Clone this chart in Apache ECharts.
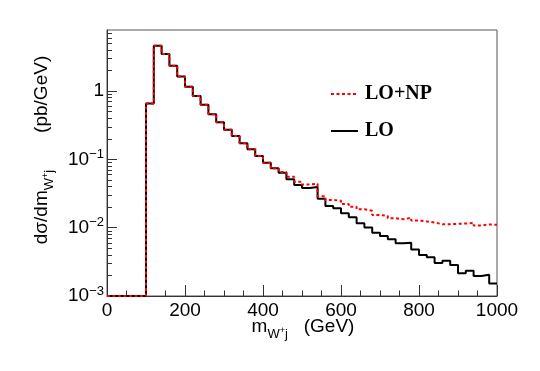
<!DOCTYPE html>
<html>
<head>
<meta charset="utf-8">
<script src="https://cdn.jsdelivr.net/npm/echarts@6/dist/echarts.min.js"></script>
<style>
  html, body { margin: 0; padding: 0; background: #fff; }
  #chart { width: 540px; height: 371px; }
</style>
</head>
<body>
<div id="chart"></div>
<script>
// Bin low edges (GeV), bin width 20 GeV
const binLowEdges = [0, 20, 40, 60, 80, 100, 120, 140, 160, 180, 200, 220, 240, 260, 280, 300, 320, 340, 360, 380,
  400, 420, 440, 460, 480, 500, 520, 540, 560, 580, 600, 620, 640, 660, 680, 700, 720, 740, 760, 780,
  800, 820, 840, 860, 880, 900, 920, 940, 960, 980];
const binUpperEdge = 1000;

// LO (black solid)
const loValues = [0, 0, 0, 0, 0, 0.66, 4.62, 3.49, 2.35, 1.64, 1.16, 0.85, 0.63, 0.457, 0.349, 0.272, 0.221, 0.172, 0.141, 0.112,
  0.0896, 0.0741, 0.064, 0.0512, 0.0422, 0.038, 0.0394, 0.0265, 0.0208, 0.0192, 0.0163, 0.0142, 0.0116, 0.0101, 0.00845, 0.00756, 0.00676, 0.0059, 0.00603, 0.0048,
  0.00398, 0.00368, 0.00305, 0.00329, 0.00284, 0.00215, 0.00235, 0.00196, 0.00205, 0.00153];

// LO+NP (red dotted)
const npValues = [0, 0, 0, 0, 0, 0.66, 4.62, 3.49, 2.35, 1.64, 1.16, 0.85, 0.63, 0.457, 0.349, 0.272, 0.221, 0.172, 0.141, 0.112,
  0.0896, 0.0741, 0.0655, 0.0558, 0.0472, 0.043, 0.044, 0.029, 0.0255, 0.0248, 0.0222, 0.0203, 0.0186, 0.0177, 0.01535, 0.01484, 0.01373, 0.01327, 0.0140, 0.01275,
  0.01233, 0.0119, 0.01125, 0.01125, 0.0114, 0.0115, 0.0118, 0.01077, 0.01114, 0.01102];

const seriesNames = ['LO+NP', 'LO'];

// Axis ranges and ticks
const xMin = 0, xMax = 1000, xInterval = 200;
const yMin = 0.001, yMax = 7.85;
const yMajorTicks = [0.001, 0.01, 0.1, 1];
const yMinorMultipliers = [2, 3, 4, 5, 6, 7, 8, 9];

const yMinorTicks = [];
yMajorTicks.forEach(function (d) {
  yMinorMultipliers.forEach(function (m) {
    const v = +(m * d).toPrecision(3);
    if (v <= yMax) yMinorTicks.push(v);
  });
});

function histData(values) {
  const pts = binLowEdges.map(function (e, i) {
    return [e, values[i] > 0 ? values[i] : yMin];
  });
  pts.push([binUpperEdge, pts[pts.length - 1][1]]);
  return pts;
}

const SANS = 'Liberation Sans, Arial, Helvetica, sans-serif';
const SERIF = 'Liberation Serif, Times New Roman, serif';
const AXC = '#333';

const chart = echarts.init(document.getElementById('chart'), null, { renderer: 'canvas' });

const titleRich = {
  m: { fontSize: 19, fontFamily: SANS, color: '#000', lineHeight: 22 },
  sub: { fontSize: 13, fontFamily: SANS, color: '#000', lineHeight: 14, padding: [14, 0, 0, 0] },
  sup: { fontSize: 9, fontFamily: SANS, color: '#000', lineHeight: 10, padding: [7, 0, 0, 0] }
};

const option = {
  animation: false,
  backgroundColor: '#fff',
  grid: {
    left: 107, top: 30, width: 390, height: 266,
    show: true, borderColor: '#555', borderWidth: 1,
    containLabel: false, outerBoundsMode: 'none'
  },
  legend: {
    data: seriesNames,
    orient: 'vertical',
    left: 330, top: 84, padding: 0,
    itemWidth: 27, itemHeight: 14, itemGap: 17,
    itemStyle: { opacity: 0 },
    textStyle: { fontFamily: SERIF, fontWeight: 'bold', fontSize: 20, color: '#000', padding: [0, 0, 0, 2] }
  },
  xAxis: {
    type: 'value', min: xMin, max: xMax, interval: xInterval,
    axisLine: { show: true, lineStyle: { color: AXC, width: 1 } },
    axisTick: { show: true, inside: true, length: 11, lineStyle: { color: AXC } },
    minorTick: { show: true, splitNumber: 4, length: 5.5, lineStyle: { color: AXC } },
    axisLabel: {
      fontFamily: SANS, fontSize: 19, color: '#000', margin: 5,
      formatter: function (v) { return String(v); }
    },
    splitLine: { show: false }
  },
  yAxis: [{
    type: 'log', min: yMin, max: yMax,
    axisLine: { show: true, lineStyle: { color: AXC, width: 1 } },
    axisTick: { show: true, inside: true, length: 10, customValues: yMajorTicks, lineStyle: { color: AXC } },
    axisLabel: {
      customValues: yMajorTicks,
      margin: 3,
      formatter: function (v) {
        const e = Math.round(Math.log10(v));
        if (e === 0) return '{b|1}';
        return '{b|10}{s|\u2212' + Math.abs(e) + '}';
      },
      rich: {
        b: { fontSize: 19, fontFamily: SANS, color: '#000', lineHeight: 20 },
        s: { fontSize: 13, fontFamily: SANS, color: '#000', lineHeight: 13, padding: [0, 0, 10, 0] }
      }
    },
    splitLine: { show: false }
  }, {
    type: 'log', min: yMin, max: yMax, position: 'left', offset: 0,
    axisLine: { show: false },
    axisTick: { show: true, inside: true, length: 5, customValues: yMinorTicks, lineStyle: { color: AXC } },
    axisLabel: { show: false },
    splitLine: { show: false }
  }],
  series: [{
    name: 'LO', type: 'line', step: 'end', data: histData(loValues),
    showSymbol: false, symbol: 'none', z: 2,
    lineStyle: { color: '#000', width: 2 }, itemStyle: { color: '#000' }
  }, {
    name: 'LO+NP', type: 'line', step: 'end', data: histData(npValues),
    showSymbol: false, symbol: 'none', z: 3,
    lineStyle: { color: '#ff0000', width: 2, type: [3, 2.5] }, itemStyle: { color: '#ff0000' }
  }],
  graphic: [{
    type: 'text', x: 303, y: 327,
    style: {
      text: '{m|m}{sub|W}{sup|+}{sub|j}{m|   (GeV)}',
      rich: titleRich, align: 'center', verticalAlign: 'middle'
    }
  }, {
    type: 'text', x: 42, y: 150, rotation: Math.PI / 2,
    style: {
      text: '{m|d\u03c3/dm}{sub|W}{sup|+}{sub|j}{m|       (pb/GeV)}',
      rich: titleRich, align: 'center', verticalAlign: 'middle'
    }
  }]
};

chart.setOption(option);
</script>
</body>
</html>
